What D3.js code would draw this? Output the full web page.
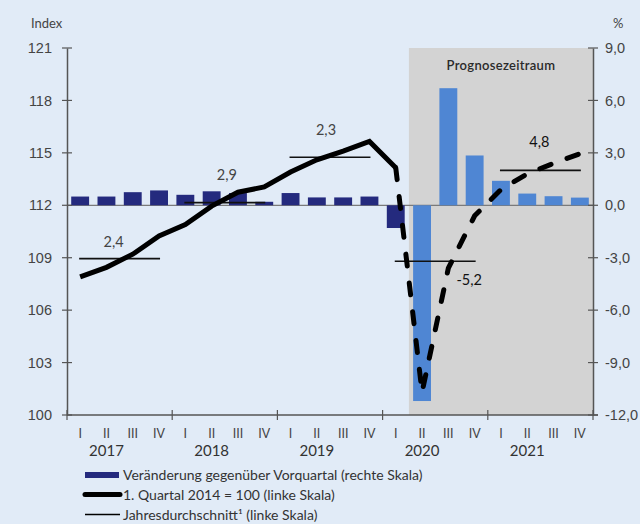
<!DOCTYPE html>
<html>
<head>
<meta charset="utf-8">
<script src="https://cdn.jsdelivr.net/npm/d3@7"></script>
<style>
  body { margin: 0; background: #e1ebf7; }
  svg { display: block; font-family: Lato, "Open Sans", sans-serif; }
</style>
</head>
<body>
<div id="chart"></div>
<script>
// Quarters 2017 Q1 - 2021 Q4
const years = ["2017", "2018", "2019", "2020", "2021"];
const quarterNames = ["I", "II", "III", "IV"];

// Veränderung gegenüber Vorquartal in % (rechte Skala)
const changeValues = [0.5, 0.5, 0.75, 0.85, 0.6, 0.8, 0.7, 0.2, 0.7, 0.45, 0.45, 0.5,
                      -1.3, -11.2, 6.7, 2.85, 1.4, 0.67, 0.52, 0.44];
// first forecast quarter index (2020 Q2)
const forecastStart = 13;

// 1. Quartal 2014 = 100 (linke Skala)
const indexActual = [107.9, 108.45, 109.2, 110.25, 110.9, 111.95, 112.75, 113.05,
                     113.9, 114.6, 115.1, 115.65, 114.15];
const indexForecast = [114.15, 101.3, 108.4, 111.4, 112.9, 113.8, 114.4, 114.95];

// Jahresdurchschnitt and annual growth labels
const annualAvg = [108.95, 112.15, 114.75, 108.8, 114.0];
const annualGrowth = ["2,4", "2,9", "2,3", "-5,2", "4,8"];

const leftTicks = [100, 103, 106, 109, 112, 115, 118, 121];
const rightTicks = [-12, -9, -6, -3, 0, 3, 6, 9];

const width = 640, height = 524;
const margin = { top: 48, right: 47, bottom: 109, left: 67 };
const innerW = width - margin.left - margin.right;
const innerH = height - margin.top - margin.bottom;

const svg = d3.select("#chart")
    .append("svg")
    .attr("width", width)
    .attr("height", height);

const g = svg.append("g")
    .attr("transform", `translate(${margin.left},${margin.top})`);

const quarters = d3.range(changeValues.length);

const x = d3.scaleBand()
    .domain(quarters)
    .range([0, innerW])
    .paddingInner(0.32)
    .paddingOuter(0.16);
const cx = i => x(i) + x.bandwidth() / 2;
const step = x.step();

const yL = d3.scaleLinear().domain([100, 121]).range([innerH, 0]);
const yR = d3.scaleLinear().domain([-12, 9]).range([innerH, 0]);

// forecast shading
const shadeX = x(forecastStart) - x.paddingInner() * step / 2;
g.append("rect")
    .attr("x", shadeX)
    .attr("y", 0)
    .attr("width", innerW - shadeX)
    .attr("height", innerH)
    .attr("fill", "#d3d3d3");

g.append("text")
    .attr("x", (shadeX + innerW) / 2)
    .attr("y", 22)
    .attr("text-anchor", "middle")
    .attr("font-size", 13)
    .attr("font-weight", 600)
    .attr("letter-spacing", 0.3)
    .attr("fill", "#2a2a2a")
    .text("Prognosezeitraum");

// zero line
g.append("line")
    .attr("x1", 0).attr("x2", innerW)
    .attr("y1", yR(0)).attr("y2", yR(0))
    .attr("stroke", "#7a7a7a")
    .attr("stroke-width", 1.2);

// bars
g.selectAll(".bar")
    .data(changeValues)
    .enter()
    .append("rect")
    .attr("class", "bar")
    .attr("x", (d, i) => x(i))
    .attr("width", x.bandwidth())
    .attr("y", d => yR(Math.max(0, d)))
    .attr("height", d => Math.abs(yR(d) - yR(0)))
    .attr("fill", (d, i) => i >= forecastStart ? "#4f86d3" : "#242a7e");

// annual averages
g.selectAll(".avg")
    .data(annualAvg)
    .enter()
    .append("line")
    .attr("class", "avg")
    .attr("x1", (d, i) => cx(i * 4) - 1)
    .attr("x2", (d, i) => cx(i * 4 + 3) + 1)
    .attr("y1", d => yL(d))
    .attr("y2", d => yL(d))
    .attr("stroke", "#111")
    .attr("stroke-width", 1.6);

// index line
const line = d3.line()
    .x(d => cx(d.i))
    .y(d => yL(d.v));

g.append("path")
    .datum(indexActual.map((v, i) => ({ i, v })))
    .attr("d", line)
    .attr("fill", "none")
    .attr("stroke", "#000")
    .attr("stroke-width", 5)
    .attr("stroke-linejoin", "miter");

g.append("path")
    .datum(indexForecast.map((v, i) => ({ i: i + 12, v })))
    .attr("d", line)
    .attr("fill", "none")
    .attr("stroke", "#000")
    .attr("stroke-width", 5)
    .attr("stroke-linecap", "round")
    .attr("stroke-dasharray", "12,17");

// growth labels, offset from the middle of each average line
const labelOffset = [[-6, -12], [2, -23], [-4, -22], [34, 24], [-1, -23]];
g.selectAll(".growth")
    .data(annualGrowth)
    .enter()
    .append("text")
    .attr("class", "growth")
    .attr("x", (d, i) => (cx(i * 4) + cx(i * 4 + 3)) / 2 + labelOffset[i][0])
    .attr("y", (d, i) => yL(annualAvg[i]) + labelOffset[i][1])
    .attr("text-anchor", "middle")
    .attr("font-size", 14.5)
    .attr("fill", (d, i) => i >= 3 ? "#111" : "#444")
    .text(d => d);

// axes
const axisColor = "#555";
const axisL = g.append("g")
    .call(d3.axisLeft(yL).tickValues(leftTicks).tickSize(0).tickPadding(15));
const axisR = g.append("g")
    .attr("transform", `translate(${innerW},0)`)
    .call(d3.axisRight(yR).tickValues(rightTicks).tickSize(0).tickPadding(12)
        .tickFormat(d => d3.format(".1f")(d).replace(".", ",").replace("−", "-")));
[axisL, axisR].forEach(a => {
    a.select(".domain").attr("stroke", axisColor).attr("stroke-width", 1.5);
    a.selectAll("text").attr("font-size", 14.5).attr("fill", "#444");
});

// cross ticks on both vertical axes
[[0, leftTicks, yL], [innerW, rightTicks, yR]].forEach(([ax, ticks, sc]) => {
    g.selectAll(null)
        .data(ticks)
        .enter()
        .append("line")
        .attr("x1", ax - 5).attr("x2", ax + 5)
        .attr("y1", d => sc(d)).attr("y2", d => sc(d))
        .attr("stroke", axisColor)
        .attr("stroke-width", 1.2);
});

// bottom axis
g.append("line")
    .attr("x1", 0).attr("x2", innerW + 5)
    .attr("y1", innerH).attr("y2", innerH)
    .attr("stroke", axisColor)
    .attr("stroke-width", 1.5);

g.selectAll(".ytick")
    .data(d3.range(years.length + 1))
    .enter()
    .append("line")
    .attr("class", "ytick")
    .attr("x1", d => d * 4 * step).attr("x2", d => d * 4 * step)
    .attr("y1", innerH - 5).attr("y2", innerH + 5)
    .attr("stroke", axisColor)
    .attr("stroke-width", 1.2);

g.selectAll(".qlabel")
    .data(quarters)
    .enter()
    .append("text")
    .attr("class", "qlabel")
    .attr("x", d => cx(d))
    .attr("y", innerH + 23)
    .attr("text-anchor", "middle")
    .attr("font-size", 12.5)
    .attr("fill", "#444")
    .text(d => quarterNames[d % 4]);

g.selectAll(".ylabel")
    .data(years)
    .enter()
    .append("text")
    .attr("class", "ylabel")
    .attr("x", (d, i) => cx(i * 4 + 1))
    .attr("y", innerH + 41)
    .attr("text-anchor", "middle")
    .attr("font-size", 15)
    .attr("fill", "#333")
    .text(d => d);

// unit labels
svg.append("text")
    .attr("x", 31).attr("y", 28)
    .attr("font-size", 13)
    .attr("fill", "#444")
    .text("Index");
svg.append("text")
    .attr("x", 613).attr("y", 28)
    .attr("font-size", 13)
    .attr("fill", "#444")
    .text("%");

// legend
const legend = svg.append("g").attr("transform", "translate(84,475)");
legend.append("rect")
    .attr("x", 1).attr("y", -3).attr("width", 34).attr("height", 6)
    .attr("fill", "#242a7e");
legend.append("line")
    .attr("x1", 1).attr("x2", 36).attr("y1", 19.5).attr("y2", 19.5)
    .attr("stroke", "#000").attr("stroke-width", 5).attr("stroke-linecap", "round");
legend.append("line")
    .attr("x1", 1).attr("x2", 36).attr("y1", 39.5).attr("y2", 39.5)
    .attr("stroke", "#000").attr("stroke-width", 1.4);

const legendText = ["Veränderung gegenüber Vorquartal (rechte Skala)",
                    "1. Quartal 2014 = 100 (linke Skala)",
                    "Jahresdurchschnitt¹ (linke Skala)"];
legend.selectAll(".ltext")
    .data(legendText)
    .enter()
    .append("text")
    .attr("class", "ltext")
    .attr("x", 39)
    .attr("y", (d, i) => 4.5 + i * 20)
    .attr("font-size", 14)
    .attr("fill", "#333")
    .text(d => d);
</script>
</body>
</html>
